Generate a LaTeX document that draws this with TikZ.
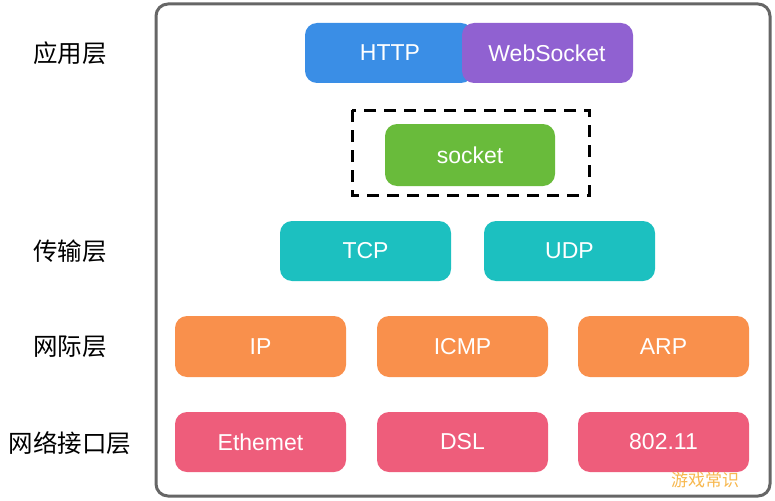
\documentclass[tikz,border=0pt]{standalone}
\usepackage{fontspec}
\setmainfont{Liberation Sans}
\newfontfamily\cjk{Noto Sans CJK SC}
\begin{document}
\begin{tikzpicture}[x=1pt,y=-1pt,
  lbl/.style={text=white, font=\fontsize{23}{25}\selectfont},
  layer/.style={font=\cjk\fontsize{24.5}{26}\selectfont, text=black}]
\definecolor{cblue}{HTML}{3A8EE6}
\definecolor{cpurple}{HTML}{9061D1}
\definecolor{cgreen}{HTML}{69BB3B}
\definecolor{cteal}{HTML}{1CC0C0}
\definecolor{corange}{HTML}{F9904C}
\definecolor{cpink}{HTML}{EE5D7B}
\definecolor{cframe}{HTML}{666666}
\definecolor{cwater}{HTML}{F5A623}
\useasboundingbox (0,0) rectangle (775,500);
% outer frame
\draw[cframe, line width=3pt, rounded corners=12pt] (156,4) rectangle (770,496);
% application layer
\fill[cblue, rounded corners=12pt] (305,23) rectangle (473,83);
\node[lbl] (http) at (390,53) {HTTP};
\fill[cpurple, rounded corners=12pt] (462,23) rectangle (633,83);
\node[lbl] (ws) at (547,53) {WebSocket};
% socket
\draw[black, line width=3pt, dash pattern=on 12pt off 8pt] (352,110) rectangle (589,195);
\fill[cgreen, rounded corners=12pt] (385,124) rectangle (555,186);
\node[lbl] (sock) at (470,155) {socket};
% transport
\fill[cteal, rounded corners=12pt] (280,221) rectangle (451,281);
\node[lbl] (tcp) at (365.5,251) {TCP};
\fill[cteal, rounded corners=12pt] (484,221) rectangle (655,281);
\node[lbl] (udp) at (569.5,251) {UDP};
% internet
\fill[corange, rounded corners=12pt] (175,316) rectangle (346,377);
\node[lbl] (ip) at (260.5,347) {IP};
\fill[corange, rounded corners=12pt] (377,316) rectangle (548,377);
\node[lbl] (icmp) at (462.5,347) {ICMP};
\fill[corange, rounded corners=12pt] (578,316) rectangle (749,377);
\node[lbl] (arp) at (663.5,347) {ARP};
% link
\fill[cpink, rounded corners=12pt] (175,412) rectangle (346,472);
\node[lbl] (eth) at (260.5,442) {Ethemet};
\fill[cpink, rounded corners=12pt] (377,412) rectangle (548,472);
\node[lbl] (dsl) at (462.5,442) {DSL};
\fill[cpink, rounded corners=12pt] (578,412) rectangle (749,472);
\node[lbl] (wifi) at (663.5,442) {802.11};
% layer labels
\node[layer] (l1) at (70,53) {应用层};
\node[layer] (l2) at (70,251) {传输层};
\node[layer] (l3) at (70,347) {网际层};
\node[layer] (l4) at (70,443) {网络接口层};
% watermark
\node[font=\cjk\fontsize{17}{18}\selectfont, text=cwater, opacity=0.8] (wm) at (705,480) {游戏常识};
\end{tikzpicture}
\end{document}
